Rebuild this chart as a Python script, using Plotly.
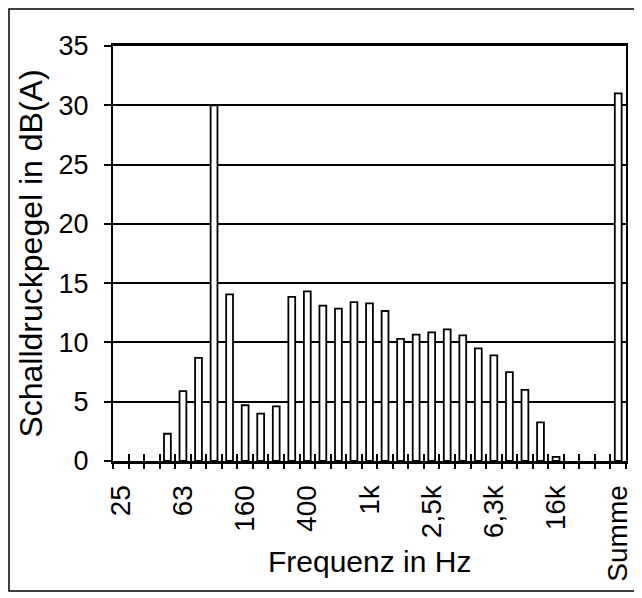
import plotly.graph_objects as go

# Third-octave band slots (index 0..32); last slot is the overall level
band_names = ["25", "31,5", "40", "50", "63", "80", "100", "125", "160", "200",
              "250", "315", "400", "500", "630", "800", "1k", "1,25k", "1,6k", "2k",
              "2,5k", "3,15k", "4k", "5k", "6,3k", "8k", "10k", "12,5k", "16k", "20k",
              "", "", "Summe"]
levels_dba = [None, None, None, 2.3, 5.9, 8.7, 30.0, 14.05, 4.7, 4.0,
              4.6, 13.85, 14.3, 13.1, 12.85, 13.4, 13.3, 12.65, 10.3, 10.65,
              10.85, 11.1, 10.6, 9.5, 8.9, 7.5, 6.0, 3.25, 0.35, None,
              None, None, 31.0]
label_slots = [0, 4, 8, 12, 16, 20, 24, 28, 32]
tick_labels = ["25", "63", "160", "400", "1k", "2,5k", "6,3k", "16k", "Summe"]
y_ticks = [0, 5, 10, 15, 20, 25, 30, 35]

slots = list(range(len(band_names)))
boundaries = [i - 0.5 for i in range(len(band_names) + 1)]

FONT = "Liberation Sans, Arial, sans-serif"

fig = go.Figure()
fig.add_trace(go.Bar(
    x=slots, y=levels_dba, width=0.44,
    marker=dict(color="white", line=dict(color="black", width=1.8)),
    hovertext=band_names, showlegend=False,
))
# empty helper traces so the tick-mark axes are drawn
for ax in ("x2", "x3"):
    fig.add_trace(go.Scatter(x=boundaries, y=[None] * len(boundaries), xaxis=ax,
                             mode="markers", hoverinfo="skip", showlegend=False))

xrange = [-0.5, len(band_names) - 0.5]

tick_axis = dict(
    overlaying="x", anchor="y", side="bottom", range=xrange,
    tickmode="array", tickvals=boundaries, ticklen=7,
    tickwidth=1.5, tickcolor="black", automargin=False,
    showticklabels=False, showgrid=False, zeroline=False, showline=False,
)

W, H = 630, 584
L, T, PW, PH = 105, 38, 513, 415

fig.update_layout(
    width=W, height=H,
    margin=dict(l=L, r=W - L - PW, t=T, b=H - T - PH),
    paper_bgcolor="white", plot_bgcolor="white",
    font=dict(family=FONT, color="black", size=26),
    xaxis=dict(
        range=xrange, tickmode="array", tickvals=label_slots, ticktext=tick_labels,
        tickangle=-90, ticks="", ticklabelstandoff=10, automargin=False,
        tickfont=dict(size=28, family=FONT),
        showgrid=False, zeroline=False,
        showline=True, linecolor="black", linewidth=3, mirror=True,
    ),
    xaxis2=dict(tick_axis, ticks="outside"),
    xaxis3=dict(tick_axis, ticks="inside"),
    yaxis=dict(
        range=[0, 35], tickmode="array", tickvals=y_ticks,
        ticks="outside", ticklen=7, tickwidth=1.5, tickcolor="black",
        ticklabelstandoff=10, automargin=False,
        tickfont=dict(size=27, family=FONT),
        showgrid=True, gridcolor="black", gridwidth=1.8,
        zeroline=False, showline=True, linecolor="black", linewidth=2, mirror=True,
        title=dict(text="Schalldruckpegel in dB(A)", font=dict(size=32, family=FONT), standoff=6),
    ),
    annotations=[dict(
        text="Frequenz in Hz", xref="paper", yref="paper", x=0.5, y=-0.243,
        xanchor="center", yanchor="middle", showarrow=False,
        font=dict(size=30, family=FONT),
    )],
    shapes=[dict(
        type="rect", xref="paper", yref="paper",
        x0=(1 - L) / PW, x1=(W - 1 - L) / PW,
        y0=(T + PH - (H - 1)) / PH, y1=(T + PH - 1) / PH,
        line=dict(color="black", width=1.5), fillcolor="rgba(0,0,0,0)",
    )],
)

fig.write_html("out.html")
